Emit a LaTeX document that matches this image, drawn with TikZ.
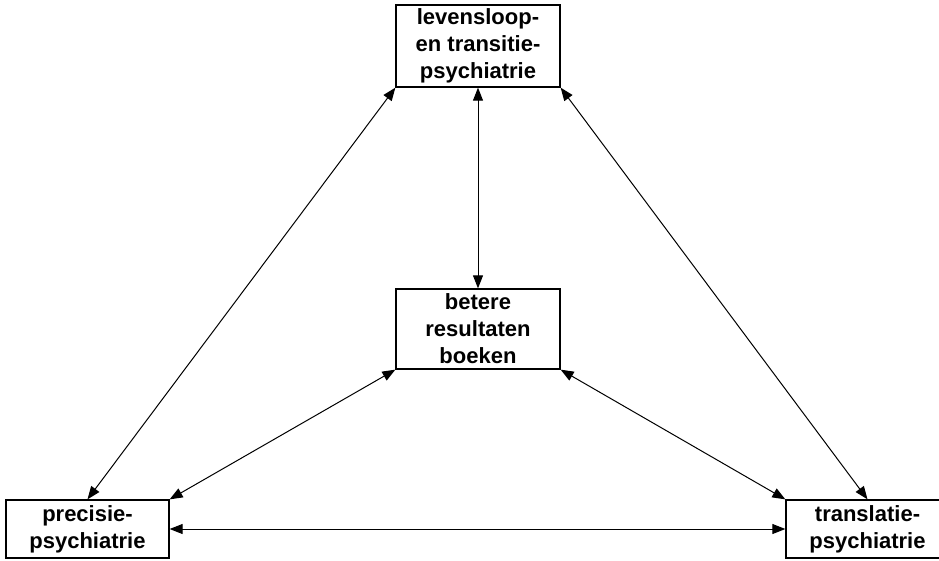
\documentclass[tikz,border=0pt]{standalone}
\usepackage{fontspec}
\setmainfont{Liberation Sans}
\usetikzlibrary{arrows.meta}
\begin{document}
\begin{tikzpicture}[x=1pt,y=-1pt,
  box/.style={draw, line width=1.3pt, fill=white, inner sep=0pt, align=center,
    font=\fontsize{22}{27}\selectfont\bfseries},
  link/.style={line width=1pt, {Triangle[length=13pt,width=10pt]}-{Triangle[length=13pt,width=10pt]}}]
\useasboundingbox (0,0) rectangle (939,560);
\begin{scope}
\clip (0,0) rectangle (939,560);
\node[box, minimum width=164pt, minimum height=82pt] (top) at (478,46) {levensloop-\\en transitie-\\psychiatrie};
\node[box, minimum width=164pt, minimum height=80pt] (mid) at (478,329) {betere\\resultaten\\boeken};
\node[box, minimum width=163pt, minimum height=58pt] (lft) at (87.5,529) {precisie-\\psychiatrie};
\node[box, minimum width=163pt, minimum height=58pt] (rgt) at (867.5,529) {translatie-\\psychiatrie};
\draw[link] (top.south west) -- (lft.north);
\draw[link] (top.south east) -- (rgt.north);
\draw[link] (top.south) -- (mid.north);
\draw[link] (mid.south west) -- (lft.north east);
\draw[link] (mid.south east) -- (rgt.north west);
\draw[link] (lft.east) -- (rgt.west);
\end{scope}
\end{tikzpicture}
\end{document}
